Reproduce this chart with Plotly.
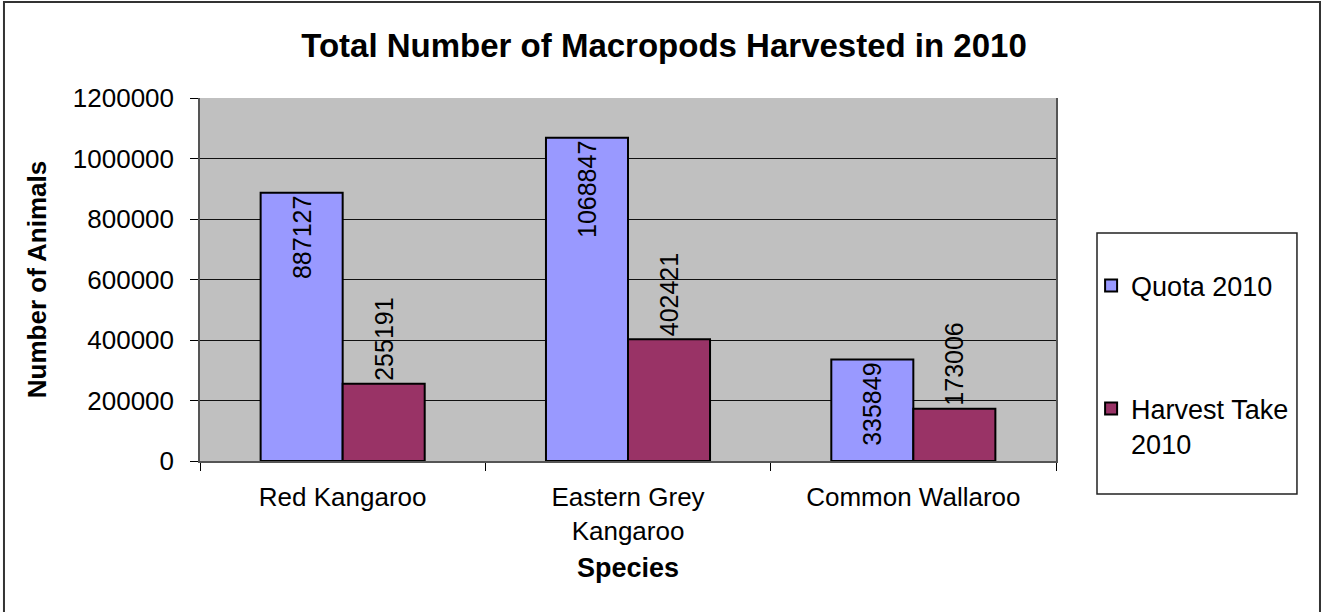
import plotly.graph_objects as go

species = ["Red Kangaroo", "Eastern Grey<br>Kangaroo", "Common Wallaroo"]
quota_2010 = [887127, 1068847, 335849]
harvest_2010 = [255191, 402421, 173006]

FONT = "Liberation Sans, Arial, sans-serif"

fig = go.Figure()

# Quota : étiquette à l'intérieur, en haut de la barre
fig.add_trace(go.Bar(
    x=species, y=quota_2010, name="Quota 2010",
    marker=dict(color="#9999FF", line=dict(color="black", width=2)),
    text=[str(v) for v in quota_2010], textposition="inside", insidetextanchor="end",
    textangle=-90, textfont=dict(size=25, color="black", family=FONT),
    constraintext="none", legendgroup="q",
))

# Récolte : étiquette au-dessus de la barre
fig.add_trace(go.Bar(
    x=species, y=harvest_2010, name="Harvest Take<br>2010",
    marker=dict(color="#993366", line=dict(color="black", width=2)),
    text=[str(v) for v in harvest_2010], textposition="outside",
    textangle=-90, textfont=dict(size=25, color="black", family=FONT),
    constraintext="none", cliponaxis=False, legendgroup="h",
))

# Cadre extérieur et cadre de légende
fig.add_shape(type="rect", xref="paper", yref="paper", x0=-0.229, x1=1.3084, y0=-0.43, y1=1.2645,
              line=dict(color="#333333", width=2), fillcolor="rgba(0,0,0,0)", layer="below")
fig.add_shape(type="rect", xref="paper", yref="paper", x0=1.0479, x1=1.2815, y0=-0.0909, y1=0.628,
              line=dict(color="#222222", width=1.5), fillcolor="white", layer="below")

fig.update_layout(
    width=1325, height=612,
    margin=dict(l=200, r=269, t=98, b=151),
    paper_bgcolor="white", plot_bgcolor="#C0C0C0",
    font=dict(family=FONT, color="black"),
    title=dict(text="<b>Total Number of Macropods Harvested in 2010</b>",
               x=664 / 1325, xref="container", xanchor="center",
               y=1 - 45 / 612, yanchor="middle", font=dict(size=33)),
    barmode="group", bargap=0.425, bargroupgap=0,
    showlegend=True,
    legend=dict(x=1.041, xanchor="left", y=0.55, yanchor="top",
                bgcolor="rgba(0,0,0,0)", borderwidth=0,
                font=dict(size=27), tracegroupgap=85, valign="top",
                traceorder="grouped"),
    xaxis=dict(title=dict(text="<b>Species</b>", font=dict(size=27), standoff=13),
               tickfont=dict(size=26), tickson="boundaries", ticks="outside",
               ticklen=8, tickcolor="black", ticklabelstandoff=12,
               showline=True, linecolor="#555555",
               linewidth=1.5, mirror=False, showgrid=False),
    yaxis=dict(title=dict(text="<b>Number of Animals</b>", font=dict(size=26), standoff=19),
               range=[0, 1200000], dtick=200000, tickformat="d",
               tickfont=dict(size=26), ticks="outside", ticklen=8, tickcolor="black",
               ticklabelstandoff=11,
               showline=True, linecolor="#555555", linewidth=1.5, mirror=True,
               showgrid=True, gridcolor="#111111", gridwidth=1, zeroline=False),
)

# la page est photographiée depuis le coin haut-gauche : pas de marge du body
fig.write_html("out.html", config={"displayModeBar": False},
               post_script="document.body.style.margin='0';")
